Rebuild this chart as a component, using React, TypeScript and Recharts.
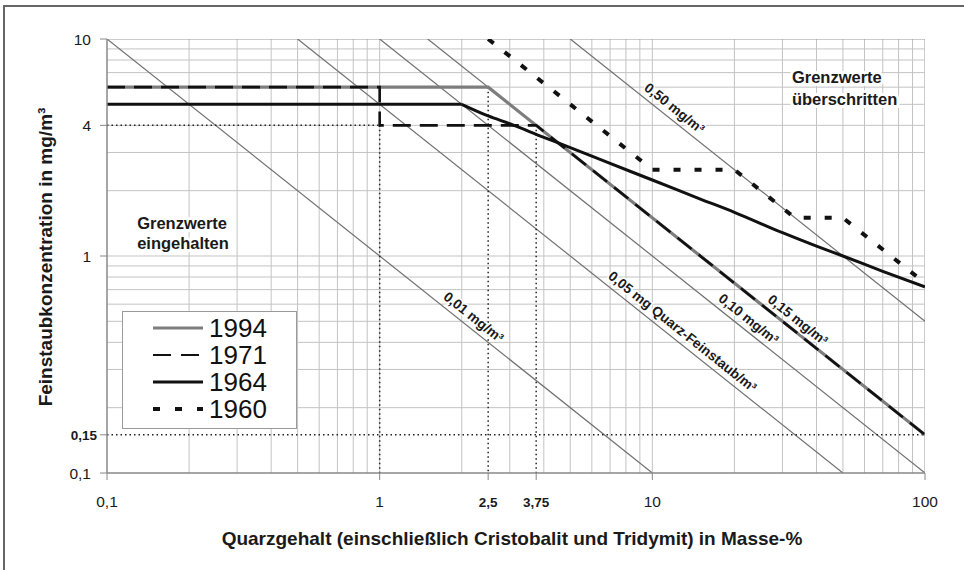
import React from 'react';
import { ComposedChart, Line, XAxis, YAxis, ReferenceDot, Legend } from 'recharts';

type P = { x: number; y: number };

// ---------- axes ----------
const xTicks = [0.1, 1, 2.5, 3.75, 10, 100];
const xTickLabels = ['0,1', '1', '2,5', '3,75', '10', '100'];
const xBoldTicks = [2.5, 3.75];
const yTicks = [0.1, 0.15, 1, 4, 10];
const yTickLabels = ['0,1', '0,15', '1', '4', '10'];
const yBoldTicks = [0.15];

const xGridValues = [0.2, 0.3, 0.4, 0.5, 0.6, 0.7, 0.8, 0.9, 1, 2, 3, 4, 5, 6, 7, 8, 9, 10, 20, 30, 40, 50, 60, 70, 80, 90, 100];
const yGridValues = [0.2, 0.3, 0.4, 0.5, 0.6, 0.7, 0.8, 0.9, 1, 2, 3, 4, 5, 6, 7, 8, 9, 10];

// ---------- iso lines (mg quartz / m3) ----------
const iso001: P[] = [{ x: 0.1, y: 10 }, { x: 10, y: 0.1 }];
const iso005: P[] = [{ x: 0.5, y: 10 }, { x: 50, y: 0.1 }];
const iso010: P[] = [{ x: 1, y: 10 }, { x: 100, y: 0.1 }];
const iso015: P[] = [{ x: 1.5, y: 10 }, { x: 100, y: 0.15 }];
const iso050: P[] = [{ x: 5, y: 10 }, { x: 100, y: 0.5 }];

// ---------- limit curves ----------
const s1994: P[] = [{ x: 0.1, y: 6 }, { x: 2.5, y: 6 }, { x: 100, y: 0.15 }];
const s1971: P[] = [{ x: 0.1, y: 6 }, { x: 1, y: 6 }, { x: 1, y: 4 }, { x: 3.75, y: 4 }, { x: 100, y: 0.15 }];
const s1964Flat: P[] = [{ x: 0.1, y: 5 }, { x: 2, y: 5 }];
const s1964Curve: P[] = [
  { x: 2, y: 5 }, { x: 2.5, y: 4.42 }, { x: 3, y: 4.07 }, { x: 4, y: 3.52 }, { x: 5, y: 3.16 },
  { x: 7, y: 2.67 }, { x: 10, y: 2.24 }, { x: 15, y: 1.83 }, { x: 20, y: 1.59 }, { x: 30, y: 1.28 },
  { x: 40, y: 1.11 }, { x: 50, y: 1.0 }, { x: 70, y: 0.85 }, { x: 100, y: 0.72 },
];
const s1960: P[] = [
  { x: 2.5, y: 10 }, { x: 10, y: 2.5 }, { x: 20, y: 2.5 }, { x: 33.3, y: 1.5 },
  { x: 50, y: 1.5 }, { x: 100, y: 0.75 },
];

// ---------- dotted guide lines ----------
const guideH4: P[] = [{ x: 0.1, y: 4 }, { x: 1, y: 4 }];
const guideH015: P[] = [{ x: 0.1, y: 0.15 }, { x: 100, y: 0.15 }];
const guideV1: P[] = [{ x: 1, y: 4 }, { x: 1, y: 0.1 }];
const guideV25: P[] = [{ x: 2.5, y: 6 }, { x: 2.5, y: 0.1 }];
const guideV375: P[] = [{ x: 3.75, y: 4 }, { x: 3.75, y: 0.1 }];

// ---------- labels ----------
const isoLabels = [
  { text: '0,01 mg/m³', x: 2.09, y: 0.478 },
  { text: '0,05 mg Quarz-Feinstaub/m³', x: 12.2, y: 0.41 },
  { text: '0,10 mg/m³', x: 21.3, y: 0.469 },
  { text: '0,15 mg/m³', x: 32.3, y: 0.464 },
  { text: '0,50 mg/m³', x: 11.4, y: 4.39 },
];
const zoneLabels = [
  { lines: ['Grenzwerte', 'eingehalten'], x: 0.129, y: 1.33 },
  { lines: ['Grenzwerte', 'überschritten'], x: 32.5, y: 6.27 },
];
const legendYears = ['1994', '1971', '1964', '1960'];

const FONT = '"Liberation Sans", Arial, Helvetica, sans-serif';
const ISO_ANGLE = 38.5;

const legendStyle: Record<string, { stroke: string; width: number; dash?: string }> = {
  '1994': { stroke: '#7d7d7d', width: 3 },
  '1971': { stroke: '#111', width: 2.2, dash: '18 10' },
  '1964': { stroke: '#111', width: 3 },
  '1960': { stroke: '#111', width: 4, dash: '7 15' },
};

const toSegs = (vals: number[], vertical: boolean): P[][] =>
  vals.map((v) => (vertical ? [{ x: v, y: 0.1 }, { x: v, y: 10 }] : [{ x: 0.1, y: v }, { x: 100, y: v }]));

const renderXTick = (props: any) => {
  const { x, y, payload } = props;
  const v = payload.value;
  const bold = xBoldTicks.includes(v);
  return (
    <text x={x} y={y + 25} textAnchor="middle" fontFamily={FONT} fontSize={bold ? 13.5 : 15.5}
      fontWeight={bold ? 'bold' : 'normal'} fill="#1a1a1a">
      {xTickLabels[xTicks.indexOf(v)]}
    </text>
  );
};

const renderYTick = (props: any) => {
  const { x, y, payload } = props;
  const v = payload.value;
  const bold = yBoldTicks.includes(v);
  return (
    <text x={bold ? x - 1 : x - 7} y={y} dy="0.36em" textAnchor="end" fontFamily={FONT}
      fontSize={bold ? 13.5 : 15.5} fontWeight={bold ? 'bold' : 'normal'} fill="#1a1a1a">
      {yTickLabels[yTicks.indexOf(v)]}
    </text>
  );
};

const renderXTitle = (props: any) => {
  const vb = props.viewBox || { x: 107, y: 473, width: 818, height: 97 };
  return (
    <text x={vb.x + vb.width / 2 - 4} y={vb.y + 72} textAnchor="middle" fontFamily={FONT}
      fontSize={19} fontWeight="bold" fill="#1a1a1a">
      Quarzgehalt (einschließlich Cristobalit und Tridymit) in Masse-%
    </text>
  );
};

const renderYTitle = (props: any) => {
  const vb = props.viewBox || { x: 0, y: 39, width: 107, height: 434 };
  const cx = 45;
  const cy = vb.y + vb.height / 2 + 1;
  return (
    <text x={cx} y={cy} transform={`rotate(-90, ${cx}, ${cy})`} textAnchor="middle" dy="0.36em"
      fontFamily={FONT} fontSize={19} fontWeight="bold" fill="#1a1a1a">
      Feinstaubkonzentration in mg/m³
    </text>
  );
};

const LegendBox = () => (
  <svg width={175} height={118} style={{ display: 'block' }}>
    <rect x={0.5} y={0.5} width={174} height={117} fill="#fff" stroke="#9a9a9a" strokeWidth={1} />
    {legendYears.map((yr, i) => {
      const cy = 17 + i * 27;
      const st = legendStyle[yr];
      return (
        <g key={yr}>
          <line x1={31} x2={81} y1={cy} y2={cy} stroke={st.stroke} strokeWidth={st.width}
            strokeDasharray={st.dash} />
          <text x={87} y={cy} dy="0.36em" fontFamily={FONT} fontSize={26} fill="#111">{yr}</text>
        </g>
      );
    })}
  </svg>
);

const lineProps = {
  type: 'linear' as const,
  dataKey: 'y',
  dot: false,
  activeDot: false,
  isAnimationActive: false,
  legendType: 'none' as const,
};

export default function App() {
  const vGrid = toSegs(xGridValues, true);
  const hGrid = toSegs(yGridValues, false);
  return (
    <div style={{ position: 'absolute', left: 0, top: 0, width: 964, height: 570, background: '#fff', overflow: 'hidden' }}>
      <div style={{ position: 'absolute', left: 3, top: 5, width: 961, height: 2, background: '#666' }} />
      <div style={{ position: 'absolute', left: 3, top: 5, width: 2, height: 565, background: '#666' }} />
      <ComposedChart width={964} height={570} margin={{ top: 39, right: 39, bottom: 0, left: 0 }}
        accessibilityLayer={false}>
        <XAxis dataKey="x" type="number" scale="log" domain={[0.1, 100]} allowDataOverflow
          ticks={xTicks} interval={0} tick={renderXTick} tickSize={7} height={97}
          stroke="#888" axisLine={{ stroke: '#888', strokeWidth: 1.5 }} tickLine={{ stroke: '#888' }}
          label={renderXTitle} />
        <YAxis type="number" scale="log" domain={[0.1, 10]} allowDataOverflow
          ticks={yTicks} interval={0} tick={renderYTick} tickSize={7} width={107}
          stroke="#888" axisLine={{ stroke: '#888', strokeWidth: 1.5 }} tickLine={{ stroke: '#888' }}
          label={renderYTitle} />

        {vGrid.map((seg, i) => (
          <Line key={`vg${i}`} {...lineProps} data={seg} stroke={xGridValues[i] === 100 ? '#999' : '#c3c3c3'} strokeWidth={1} />
        ))}
        {hGrid.map((seg, i) => (
          <Line key={`hg${i}`} {...lineProps} data={seg} stroke={yGridValues[i] === 10 ? '#999' : '#c3c3c3'} strokeWidth={1} />
        ))}

        <Line {...lineProps} data={iso001} stroke="#707070" strokeWidth={1.2} />
        <Line {...lineProps} data={iso005} stroke="#707070" strokeWidth={1.2} />
        <Line {...lineProps} data={iso010} stroke="#707070" strokeWidth={1.2} />
        <Line {...lineProps} data={iso015} stroke="#707070" strokeWidth={1.2} />
        <Line {...lineProps} data={iso050} stroke="#707070" strokeWidth={1.2} />

        <Line {...lineProps} data={guideH4} stroke="#222" strokeWidth={1.5} strokeDasharray="1.5 3" />
        <Line {...lineProps} data={guideH015} stroke="#222" strokeWidth={1.5} strokeDasharray="1.5 3" />
        <Line {...lineProps} data={guideV1} stroke="#222" strokeWidth={1.5} strokeDasharray="1.5 3" />
        <Line {...lineProps} data={guideV25} stroke="#222" strokeWidth={1.5} strokeDasharray="1.5 3" />
        <Line {...lineProps} data={guideV375} stroke="#222" strokeWidth={1.5} strokeDasharray="1.5 3" />

        <Line {...lineProps} name="1994" data={s1994} stroke="#7d7d7d" strokeWidth={3.2} />
        <Line {...lineProps} name="1971" data={s1971} stroke="#111" strokeWidth={2.6} strokeDasharray="18 9" />
        <Line {...lineProps} name="1964" data={s1964Flat} stroke="#111" strokeWidth={3} />
        <Line {...lineProps} name="1964b" type="monotone" data={s1964Curve} stroke="#111" strokeWidth={3} />
        <Line {...lineProps} name="1960" data={s1960} stroke="#111" strokeWidth={4} strokeDasharray="7 14" />

        {isoLabels.map((l) => (
          <ReferenceDot key={l.text} x={l.x} y={l.y} r={1} ifOverflow="visible"
            shape={(p: any) => (
              <text x={p.cx} y={p.cy} dy={-6} transform={`rotate(${ISO_ANGLE}, ${p.cx}, ${p.cy})`}
                textAnchor="middle" fontFamily={FONT} fontSize={13.8} fontWeight="bold" fill="#1a1a1a"
                stroke="#fff" strokeWidth={3} paintOrder="stroke">
                {l.text}
              </text>
            )} />
        ))}
        {zoneLabels.map((l, i) => (
          <ReferenceDot key={`z${i}`} x={l.x} y={l.y} r={1} ifOverflow="visible"
            shape={(p: any) => (
              <text x={p.cx} y={p.cy} fontFamily={FONT} fontSize={16.5} fontWeight="bold" fill="#1a1a1a"
                stroke="#fff" strokeWidth={6} paintOrder="stroke">
                <tspan x={p.cx}>{l.lines[0]}</tspan>
                <tspan x={p.cx} dy={i === 0 ? 20 : 22}>{l.lines[1]}</tspan>
              </text>
            )} />
        ))}

        <Legend layout="vertical" align="center" verticalAlign="middle" content={<LegendBox />}
          wrapperStyle={{ position: 'absolute', left: 122, top: 311, width: 175, height: 118 }} />
      </ComposedChart>
    </div>
  );
}
